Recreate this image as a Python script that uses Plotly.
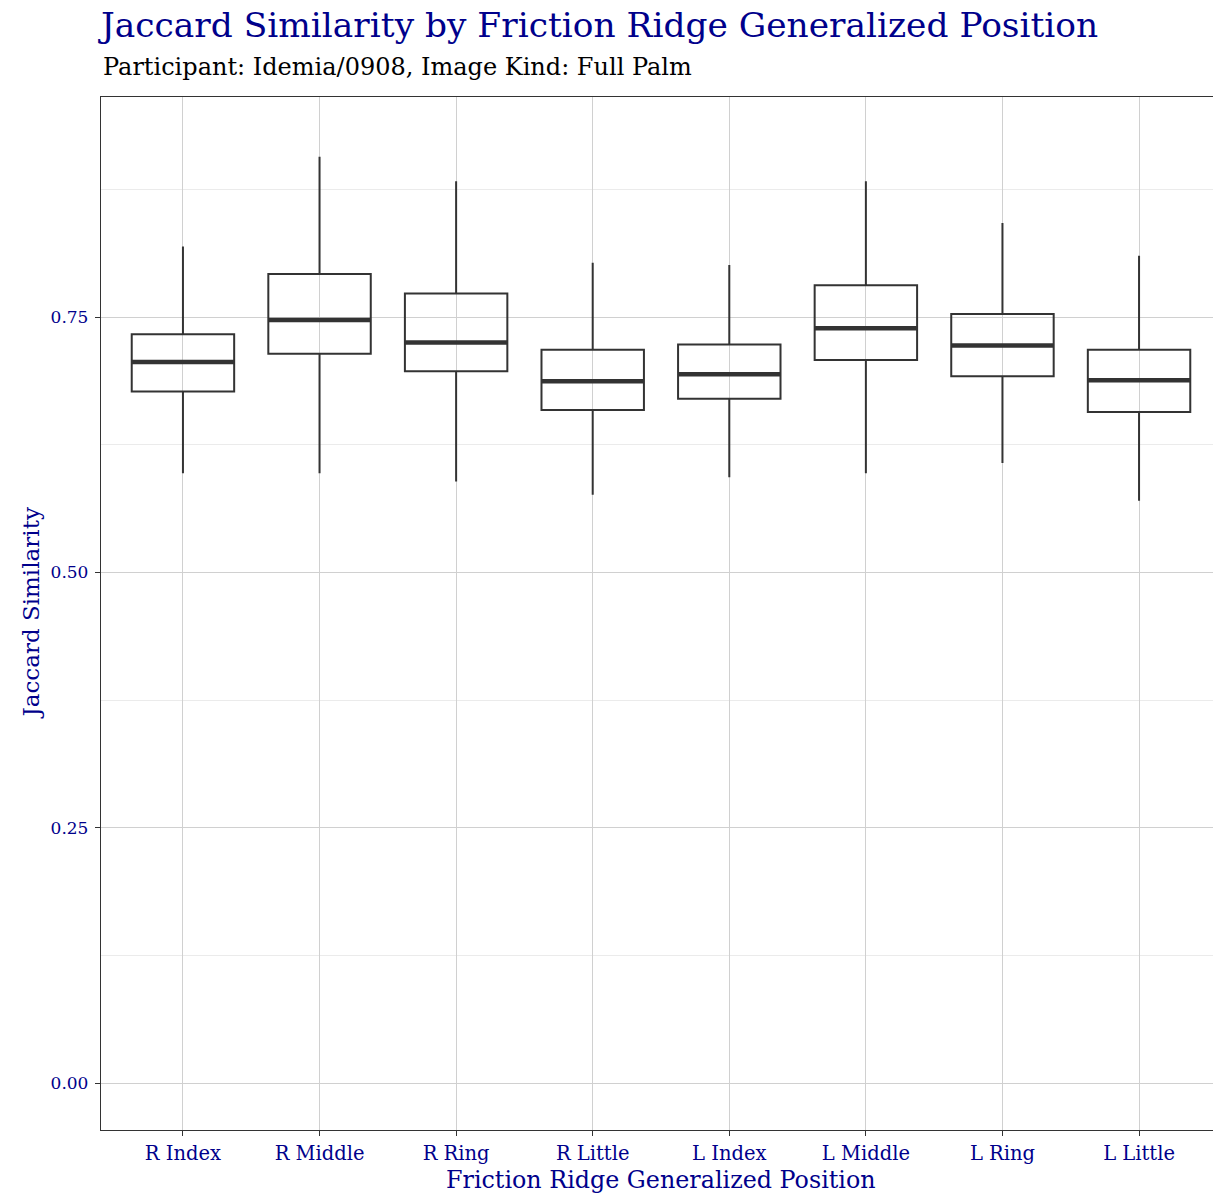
import plotly.graph_objects as go

categories = ["R Index", "R Middle", "R Ring", "R Little", "L Index", "L Middle", "L Ring", "L Little"]
upper_fence = [0.819, 0.907, 0.883, 0.803, 0.801, 0.883, 0.842, 0.810]
q3 = [0.733, 0.792, 0.773, 0.718, 0.723, 0.781, 0.753, 0.718]
median = [0.706, 0.747, 0.725, 0.687, 0.694, 0.739, 0.722, 0.688]
q1 = [0.677, 0.714, 0.697, 0.659, 0.670, 0.708, 0.692, 0.657]
lower_fence = [0.597, 0.597, 0.589, 0.576, 0.593, 0.597, 0.607, 0.570]
y_ticks = [0.0, 0.25, 0.5, 0.75]
y_tick_labels = ["0.00", "0.25", "0.50", "0.75"]

FONT = "DejaVu Serif"
NAVY = "#00008B"
DARK = "#333333"
# page body has an 8px margin; figure sized/offset to compensate
W, H = 1213, 1189
ML, MR, MT, MB = 93, 0, 89, 67
PH = H - MT - MB
PW = W - ML - MR
BOX_W = 0.75

xs = list(range(len(categories)))

fig = go.Figure()
fig.add_trace(go.Box(
    x=xs, q1=q1, median=median, q3=q3,
    lowerfence=lower_fence, upperfence=upper_fence,
    width=BOX_W, boxpoints=False, whiskerwidth=0,
    fillcolor="rgba(255,255,255,0)",
    line=dict(color=DARK, width=2),
    showlegend=False, hoverinfo="skip",
))
# thicker median segments like ggplot
for i, m in zip(xs, median):
    fig.add_trace(go.Scatter(
        x=[i - BOX_W / 2, i + BOX_W / 2], y=[m, m], mode="lines",
        line=dict(color=DARK, width=4.5), showlegend=False, hoverinfo="skip",
    ))

fig.update_layout(
    width=W, height=H,
    margin=dict(l=ML, r=MR, t=MT, b=MB),
    paper_bgcolor="white", plot_bgcolor="white",
    font=dict(family=FONT, color=NAVY),
    showlegend=False,
    title=dict(
        text="Jaccard Similarity by Friction Ridge Generalized Position",
        x=ML / W, xanchor="left", xref="container",
        y=1 - 17 / H, yanchor="middle", yref="container",
        font=dict(family=FONT, size=34.4, color=NAVY),
    ),
    xaxis=dict(
        range=[-0.6, len(categories) - 0.4],
        tickmode="array", tickvals=xs, ticktext=categories,
        tickfont=dict(family=FONT, size=19.5, color=NAVY),
        ticks="outside", ticklen=5, tickwidth=1.3, tickcolor=DARK,
        showline=True, linecolor=DARK, linewidth=1.3, mirror=True,
        showgrid=True, gridcolor="#d0d0d0", gridwidth=1.4,
        zeroline=False,
    ),
    yaxis=dict(
        range=[-0.046, 0.9654],
        tickmode="array", tickvals=y_ticks, ticktext=y_tick_labels,
        tickfont=dict(family=FONT, size=17, color=NAVY),
        ticks="outside", ticklen=5, tickwidth=1.3, tickcolor=DARK,
        ticklabelstandoff=3,
        showline=True, linecolor=DARK, linewidth=1.3, mirror=False,
        showgrid=True, gridcolor="#d0d0d0", gridwidth=1.4,
        minor=dict(tickvals=[0.125, 0.375, 0.625, 0.875], showgrid=True,
                   gridcolor="#ebebeb", gridwidth=1, ticks=""),
        zeroline=False,
    ),
    annotations=[
        dict(text="Participant: Idemia/0908, Image Kind: Full Palm",
             xref="paper", yref="paper", x=0, xanchor="left",
             y=1 + 30.5 / PH, yanchor="middle", showarrow=False,
             font=dict(family=FONT, size=24, color="black")),
        dict(text="Friction Ridge Generalized Position",
             xref="paper", yref="paper", x=0.5, xanchor="center",
             y=-50 / PH, yanchor="middle", showarrow=False,
             font=dict(family=FONT, size=23.8, color=NAVY)),
        dict(text="Jaccard Similarity",
             xref="paper", yref="paper", x=-71 / PW, xanchor="center",
             y=0.5, yanchor="middle", showarrow=False, textangle=-90,
             font=dict(family=FONT, size=23, color=NAVY)),
    ],
)

fig.write_html("out.html")
